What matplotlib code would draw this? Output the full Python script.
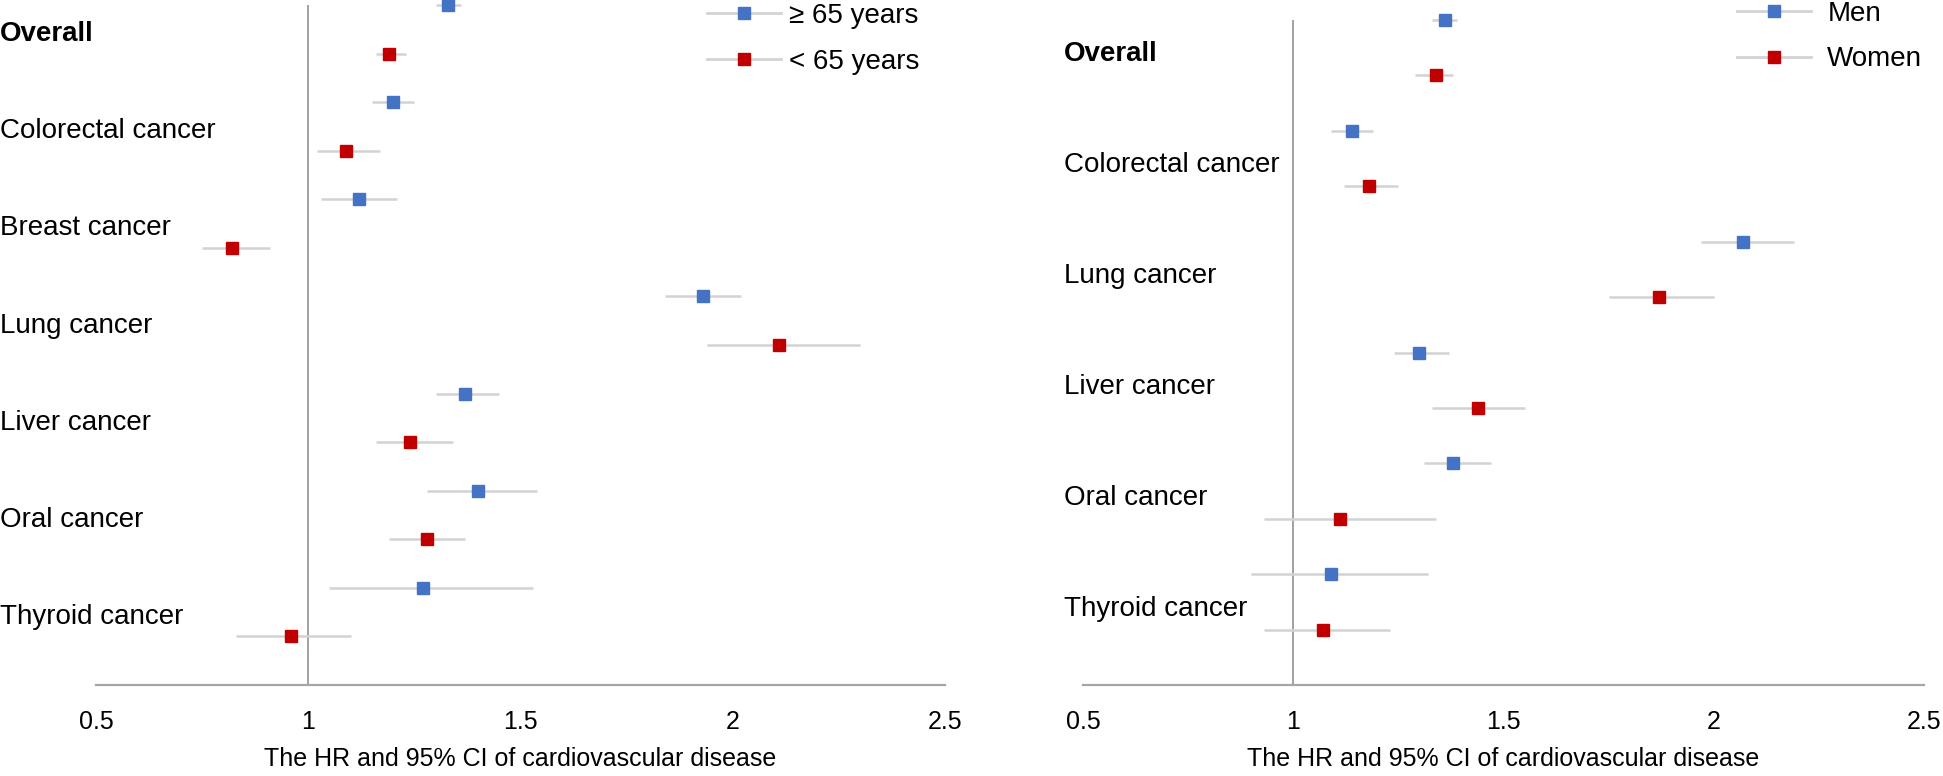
import matplotlib
matplotlib.use("Agg")
import matplotlib.pyplot as plt
from matplotlib.lines import Line2D
from matplotlib.transforms import blended_transform_factory

plt.rcParams['font.family'] = ['Liberation Sans', 'DejaVu Sans']

# ---------------- data ----------------
cats_age = ["Overall", "Colorectal cancer", "Breast cancer", "Lung cancer",
            "Liver cancer", "Oral cancer", "Thyroid cancer"]
ge65_hr = [1.33, 1.20, 1.12, 1.93, 1.37, 1.40, 1.27]
ge65_lo = [1.30, 1.15, 1.03, 1.84, 1.30, 1.28, 1.05]
ge65_hi = [1.36, 1.25, 1.21, 2.02, 1.45, 1.54, 1.53]
lt65_hr = [1.19, 1.09, 0.82, 2.11, 1.24, 1.28, 0.96]
lt65_lo = [1.16, 1.02, 0.75, 1.94, 1.16, 1.19, 0.83]
lt65_hi = [1.23, 1.17, 0.91, 2.30, 1.34, 1.37, 1.10]

cats_sex = ["Overall", "Colorectal cancer", "Lung cancer", "Liver cancer",
            "Oral cancer", "Thyroid cancer"]
men_hr = [1.36, 1.14, 2.07, 1.30, 1.38, 1.09]
men_lo = [1.33, 1.09, 1.97, 1.24, 1.31, 0.90]
men_hi = [1.39, 1.19, 2.19, 1.37, 1.47, 1.32]
women_hr = [1.34, 1.18, 1.87, 1.44, 1.11, 1.07]
women_lo = [1.29, 1.12, 1.75, 1.33, 0.93, 0.93]
women_hi = [1.38, 1.25, 2.00, 1.55, 1.34, 1.23]

xticks = [0.5, 1, 1.5, 2, 2.5]
xticklabels = ["0.5", "1", "1.5", "2", "2.5"]
xlabel = "The HR and 95% CI of cardiovascular disease"
legend_age = ["\u2265 65 years", "< 65 years"]
legend_sex = ["Men", "Women"]

BLUE = "#4472C4"
RED = "#C00000"
CI_COL = "#D3D3D3"

W, H = 1943, 776
fig = plt.figure(figsize=(W / 100, H / 100), dpi=100)


def px_axes(x0, y0, x1, y1):
    return fig.add_axes([x0 / W, 1 - y1 / H, (x1 - x0) / W, (y1 - y0) / H])


def panel(ax, cats, a_hr, a_lo, a_hi, b_hr, b_lo, b_hi, labels, label_x,
          label_dy, leg_anchor, leg_spacing, leg_pad):
    n = len(cats)
    ya = [2 * n - 2 * i for i in range(n)]
    yb = [2 * n - 2 * i - 1 for i in range(n)]
    ax.hlines(ya, a_lo, a_hi, color=CI_COL, lw=1.8, zorder=2, clip_on=False)
    ax.hlines(yb, b_lo, b_hi, color=CI_COL, lw=1.8, zorder=2, clip_on=False)
    ax.plot(a_hr, ya, ls='none', marker='s', ms=8, color=BLUE, zorder=3, clip_on=False)
    ax.plot(b_hr, yb, ls='none', marker='s', ms=8, color=RED, zorder=3, clip_on=False)
    ax.axvline(1, color="#888888", lw=1.1, zorder=1)
    ax.set_xlim(0.5, 2.5)
    ax.set_ylim(0, 2 * n)
    for s in ['top', 'right', 'left']:
        ax.spines[s].set_visible(False)
    ax.spines['bottom'].set_color("#A6A6A6")
    ax.spines['bottom'].set_linewidth(1.6)
    ax.set_yticks([])
    ax.set_xticks(xticks)
    ax.set_xticklabels(xticklabels)
    ax.tick_params(axis='x', length=0, pad=18, labelsize=18, labelcolor='#000000')
    ax.set_xlabel(xlabel, fontsize=18, labelpad=9)
    tr = blended_transform_factory(fig.transFigure, ax.transData)
    for i, c in enumerate(cats):
        ax.text(label_x, 2 * n - 2 * i - 0.5 - label_dy, c, transform=tr,
                ha='left', va='center', fontsize=20,
                fontweight='bold' if c == "Overall" else 'normal')
    handles = [Line2D([], [], color=CI_COL, lw=2, marker='s', ms=9,
                      markerfacecolor=BLUE, markeredgecolor=BLUE),
               Line2D([], [], color=CI_COL, lw=2, marker='s', ms=9,
                      markerfacecolor=RED, markeredgecolor=RED)]
    leg = ax.legend(handles, labels, loc='upper left',
                    bbox_to_anchor=leg_anchor, bbox_transform=fig.transFigure,
                    frameon=False, fontsize=20, borderpad=0, borderaxespad=0,
                    handlelength=2.65, handletextpad=leg_pad,
                    labelspacing=leg_spacing)
    return leg


ax1 = px_axes(96, 5, 945, 685)
panel(ax1, cats_age, ge65_hr, ge65_lo, ge65_hi, lt65_hr, lt65_lo, lt65_hi,
      legend_age, 0.0, 0.1, (707 / W, 1 - 3 / H), 0.72, 0.3)

ax2 = px_axes(1083, 20, 1924, 685)
panel(ax2, cats_sex, men_hr, men_lo, men_hi, women_hr, women_lo, women_hi,
      legend_sex, 1064 / W, 0.12, (1737 / W, 1 - 1 / H), 0.7, 0.6)

fig.savefig("out.png", dpi=100)
